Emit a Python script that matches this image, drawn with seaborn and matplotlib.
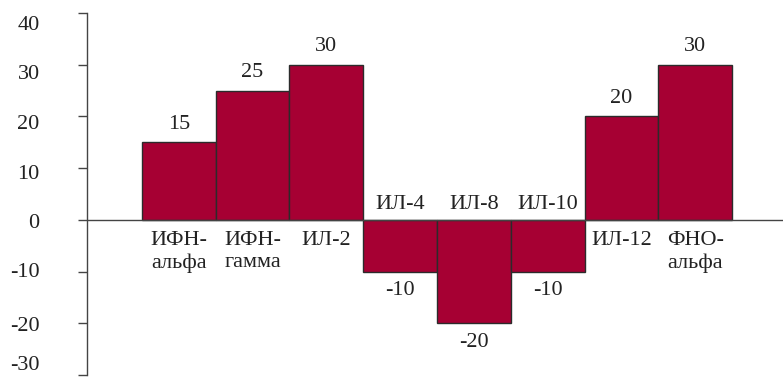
import matplotlib
matplotlib.use("Agg")
import matplotlib.pyplot as plt
import seaborn as sns

# данные диаграммы
categories = ["ИФН-\nальфа", "ИФН-\nгамма", "ИЛ-2", "ИЛ-4", "ИЛ-8", "ИЛ-10", "ИЛ-12", "ФНО-\nальфа"]
values = [15, 25, 30, -10, -20, -10, 20, 30]
y_ticks = [40, 30, 20, 10, 0, -10, -20, -30]
# подписи оси Y в оригинале стоят чуть ниже своих делений
y_label_pos = [38.1, 28.6, 19.0, 9.3, -0.3, -9.7, -20.1, -27.7]

sns.set_theme(style="white")
plt.rcParams["font.family"] = ["Liberation Serif", "DejaVu Serif"]

bar_color = "#a60033"
edge_color = "#2b2b2b"
text_color = "#222222"
fs = 16

fig = plt.figure(figsize=(7.83, 3.77), dpi=100)
ax = fig.add_axes([0.111, 0.0053, 0.889, 0.9602])

sns.barplot(x=list(range(len(values))), y=values, ax=ax, color=bar_color,
            width=1.0, edgecolor=edge_color, linewidth=1.0, saturation=1)

ax.set_xlim(-1.246, 8.19)
ax.set_ylim(-30, 40)

# ось Y: деления без подписей + подписи на малых делениях
ax.set_yticks(y_ticks)
ax.set_yticklabels([])
ax.set_yticks(y_label_pos, minor=True)
ax.set_yticklabels([str(v) for v in y_ticks], minor=True)
ax.tick_params(axis="y", which="major", left=True, length=6.5, width=1, color="#444444", direction="out")
ax.tick_params(axis="y", which="minor", left=True, length=0, pad=34, labelsize=fs, labelcolor=text_color)
for lbl in ax.get_yticklabels(minor=True):
    lbl.set_horizontalalignment("right")

ax.set_xticks([])
ax.set_xlabel("")
ax.set_ylabel("")

for side in ["top", "right", "bottom"]:
    ax.spines[side].set_visible(False)
ax.spines["left"].set_color("#444444")
ax.spines["left"].set_linewidth(1)
ax.axhline(0, color="#444444", lw=1, zorder=1)

for i, (cat, v) in enumerate(zip(categories, values)):
    if v > 0:
        ax.annotate(str(v), (i, v), xytext=(0, 6), textcoords="offset points",
                    ha="center", va="bottom", fontsize=fs, color=text_color)
        ax.annotate(cat, (i, 0), xytext=(0, -8), textcoords="offset points",
                    ha="center", va="top", fontsize=fs, color=text_color,
                    multialignment="center", linespacing=1.25)
    else:
        ax.annotate(str(v), (i, v), xytext=(0, -7), textcoords="offset points",
                    ha="center", va="top", fontsize=fs, color=text_color)
        ax.annotate(cat, (i, 0), xytext=(0, 4), textcoords="offset points",
                    ha="center", va="bottom", fontsize=fs, color=text_color)

fig.savefig("out.png", dpi=100)
